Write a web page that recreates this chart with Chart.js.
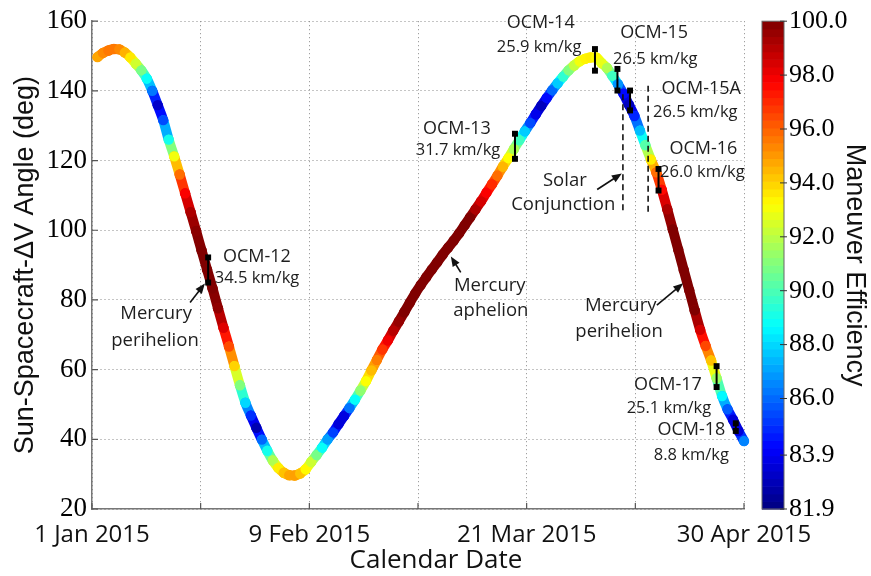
<!DOCTYPE html>
<html>
<head>
<meta charset="utf-8">
<title>Sun-Spacecraft-ΔV Angle</title>
<script src="https://cdn.jsdelivr.net/npm/chart.js@4/dist/chart.umd.min.js"></script>
<style>
  body { margin: 0; background: #fff; }
  #wrap { width: 871px; height: 576px; }
</style>
</head>
<body>
<div id="wrap"><canvas id="angle_chart" width="871" height="576"></canvas></div>
<script>
// days after 1 Jan 2015
const days = [
  1, 2, 3, 4, 5, 6, 7, 8, 9, 10, 11, 12, 13, 14, 15, 16, 17, 18, 19, 20,
  21, 22, 23, 24, 25, 26, 27, 28, 29, 30, 31, 32, 33, 34, 35, 36, 37, 38, 39, 40,
  41, 42, 43, 44, 45, 46, 47, 48, 49, 50, 51, 52, 53, 54, 55, 56, 57, 58, 59, 60,
  61, 62, 63, 64, 65, 66, 67, 68, 69, 70, 71, 72, 73, 74, 75, 76, 77, 78, 79, 80,
  81, 82, 83, 84, 85, 86, 87, 88, 89, 90, 91, 92, 93, 94, 95, 96, 97, 98, 99, 100,
  101, 102, 103, 104, 105, 106, 107, 108, 109, 110, 111, 112, 113, 114, 115, 116, 117, 118, 119
];

// Sun-Spacecraft-dV angle (deg)
const angle = [
  149.7, 150.9, 151.6, 152.0, 151.9, 151.0, 149.6, 147.8, 145.9, 143.5,
  140.0, 135.9, 131.6, 126.0, 121.2, 116.0, 110.6, 105.2, 99.8, 94.2,
  88.7, 83.3, 77.6, 72.0, 66.6, 61.0, 55.5, 50.5, 46.8, 43.3,
  39.9, 36.7, 33.9, 31.8, 30.4, 29.7, 29.6, 30.2, 31.4, 33.5,
  35.5, 37.6, 40.0, 42.0, 44.4, 46.7, 49.0, 51.4, 54.0, 56.7,
  59.8, 62.8, 65.8, 68.4, 71.2, 73.8, 76.5, 79.2, 81.9, 84.3,
  86.5, 88.7, 90.8, 93.0, 95.0, 97.0, 99.1, 101.4, 103.7, 106.0,
  108.3, 110.8, 113.2, 115.7, 118.3, 120.7, 123.3, 125.9, 128.4, 130.8,
  133.3, 135.7, 138.0, 140.2, 142.2, 144.1, 145.9, 147.3, 148.5, 149.2,
  149.6, 149.6, 148.0, 146.6, 144.3, 141.9, 139.2, 136.0, 132.8, 128.6,
  124.4, 120.3, 116.6, 111.6, 106.0, 100.2, 94.4, 88.6, 82.8, 77.0,
  71.4, 66.8, 62.6, 57.5, 52.4, 48.6, 45.6, 42.4, 39.5
];

// maneuver efficiency (%)
const efficiency = [
  94.8, 95.3, 95.6, 95.6, 95.3, 94.6, 93.6, 92.4, 90.8, 88.8,
  86.3, 83.2, 85.5, 89.0, 93.0, 95.8, 97.8, 99.2, 99.8, 100.0,
  100.0, 100.0, 99.7, 98.3, 96.4, 94.0, 91.0, 88.0, 85.0, 82.8,
  86.0, 89.0, 91.8, 93.5, 94.3, 94.8, 94.9, 94.3, 93.3, 92.3,
  90.8, 88.8, 87.0, 85.3, 83.5, 83.6, 86.2, 88.8, 91.2, 93.2,
  94.4, 95.5, 96.8, 98.0, 99.0, 99.6, 100.0, 100.0, 100.0, 100.0,
  100.0, 100.0, 100.0, 100.0, 100.0, 100.0, 100.0, 100.0, 100.0, 99.2,
  98.5, 97.8, 97.0, 95.8, 94.5, 93.2, 91.7, 89.8, 87.8, 85.5,
  83.8, 83.0, 84.3, 86.0, 87.8, 89.5, 91.0, 92.2, 93.0, 93.4,
  93.5, 93.3, 92.8, 91.8, 89.8, 86.8, 84.3, 83.0, 84.8, 87.5,
  90.2, 93.5, 95.8, 97.6, 99.2, 100.0, 100.0, 100.0, 100.0, 100.0,
  98.5, 96.5, 94.3, 91.5, 88.6, 85.8, 83.5, 83.5, 86.5
];

const tickDays = [0, 19.83, 39.67, 59.5, 79.33, 99.17, 119];
const tickLabels = ["1 Jan 2015", "", "9 Feb 2015", "", "21 Mar 2015", "", "30 Apr 2015"];
const effTicks = [81.9, 83.9, 86.0, 88.0, 90.0, 92.0, 94.0, 96.0, 98.0, 100.0];
const effMin = 81.9, effMax = 100.0;

// OCM burns: day and angle range of each bar
const ocmNames = ["OCM-12", "OCM-13", "OCM-14", "OCM-15", "OCM-15A", "OCM-16", "OCM-17", "OCM-18"];
const ocmDv = ["34.5 km/kg", "31.7 km/kg", "25.9 km/kg", "26.5 km/kg", "26.5 km/kg", "26.0 km/kg", "25.1 km/kg", "8.8 km/kg"];
const ocmDays = [21.2, 77.2, 91.8, 95.9, 98.2, 103.4, 114.0, 117.5];
const ocmTop = [92.2, 127.7, 152.0, 146.3, 140.1, 117.6, 61.0, 44.6];
const ocmBottom = [85.0, 120.5, 145.8, 140.1, 134.4, 111.4, 55.0, 42.4];

// solar conjunction window
const conjDays = [96.9, 101.5];
const conjTop = [139.0, 141.5];
const conjBottom = [104.7, 104.7];

// text labels, placed in data units
const notes = [
  { text: ocmNames[0], x: 23.9, y: 92.5, size: 18, align: "left" },
  { text: ocmDv[0], x: 22.4, y: 86.2, size: 16.5, align: "left" },
  { text: "Mercury", x: 11.7, y: 75.9, size: 18.5 },
  { text: "perihelion", x: 11.5, y: 68.4, size: 18.5 },
  { text: ocmNames[1], x: 66.6, y: 129.2, size: 18 },
  { text: ocmDv[1], x: 66.8, y: 122.9, size: 16.5 },
  { text: ocmNames[2], x: 81.9, y: 159.6, size: 18 },
  { text: ocmDv[2], x: 81.6, y: 152.5, size: 16.5 },
  { text: ocmNames[3], x: 102.6, y: 156.7, size: 18 },
  { text: ocmDv[3], x: 102.8, y: 149.1, size: 16.5 },
  { text: ocmNames[4], x: 111.2, y: 140.5, size: 18 },
  { text: ocmDv[4], x: 110.1, y: 133.9, size: 16.5 },
  { text: ocmNames[5], x: 111.6, y: 123.3, size: 18 },
  { text: ocmDv[5], x: 111.4, y: 116.7, size: 16.5 },
  { text: "Solar", x: 86.3, y: 114.3, size: 18.5 },
  { text: "Conjunction", x: 86.0, y: 107.2, size: 18.5 },
  { text: "Mercury", x: 72.6, y: 84.0, size: 18.5 },
  { text: "aphelion", x: 72.8, y: 76.8, size: 18.5 },
  { text: "Mercury", x: 96.5, y: 78.2, size: 18.5 },
  { text: "perihelion", x: 96.2, y: 70.8, size: 18.5 },
  { text: ocmNames[6], x: 105.1, y: 55.7, size: 18 },
  { text: ocmDv[6], x: 105.3, y: 48.8, size: 16.5 },
  { text: ocmNames[7], x: 109.4, y: 42.6, size: 18 },
  { text: ocmDv[7], x: 109.4, y: 35.5, size: 16.5 }
];

const arrows = [
  { from: [17.9, 79.3], to: [20.6, 84.7] },
  { from: [92.2, 111.7], to: [96.7, 116.3] },
  { from: [67.3, 87.9], to: [65.5, 92.5] },
  { from: [103.1, 78.5], to: [107.9, 84.8] }
];

// MATLAB jet colormap
function jet(v) {
  const t = Math.min(1, Math.max(0, (v - effMin) / (effMax - effMin)));
  const ch = c => Math.round(255 * Math.min(1, Math.max(0, 1.5 - Math.abs(4 * t - c))));
  return "rgb(" + ch(3) + "," + ch(2) + "," + ch(1) + ")";
}

const curvePoints = days.map((d, i) => ({ x: d, y: angle[i] }));

const ocmPoints = [];
ocmDays.forEach((d, i) => {
  ocmPoints.push({ x: d, y: ocmTop[i] }, { x: d, y: ocmBottom[i] }, { x: d, y: null });
});

const conjPoints = [];
conjDays.forEach((d, i) => {
  conjPoints.push({ x: d, y: conjTop[i] }, { x: d, y: conjBottom[i] }, { x: d, y: null });
});

const overlay = {
  id: "overlay",
  afterDraw(chart) {
    const ctx = chart.ctx;
    const { x, y, cb } = chart.scales;
    const area = chart.chartArea;
    ctx.save();

    // tick marks pointing into the axes
    ctx.strokeStyle = "#555";
    ctx.lineWidth = 1.2;
    ctx.beginPath();
    y.ticks.forEach(t => {
      const py = y.getPixelForValue(t.value);
      ctx.moveTo(area.left, py);
      ctx.lineTo(area.left + 6, py);
    });
    x.ticks.forEach(t => {
      const px = x.getPixelForValue(t.value);
      ctx.moveTo(px, area.bottom);
      ctx.lineTo(px, area.bottom - 6);
    });
    ctx.stroke();

    // colour bar, 64 bands like the matlab one
    const barLeft = cb.left + 18, barWidth = 22, steps = 64;
    for (let i = 0; i < steps; i++) {
      const v0 = effMin + (effMax - effMin) * i / steps;
      const v1 = effMin + (effMax - effMin) * (i + 1) / steps;
      const y0 = cb.getPixelForValue(v0), y1 = cb.getPixelForValue(v1);
      ctx.fillStyle = jet((v0 + v1) / 2);
      ctx.fillRect(barLeft, y1, barWidth, y0 - y1 + 0.6);
    }
    ctx.strokeStyle = "#666";
    ctx.lineWidth = 1;
    ctx.strokeRect(barLeft, cb.top, barWidth, cb.bottom - cb.top);
    ctx.strokeStyle = "#333";
    ctx.beginPath();
    cb.ticks.forEach(t => {
      const py = cb.getPixelForValue(t.value);
      ctx.moveTo(barLeft + barWidth - 4, py);
      ctx.lineTo(barLeft + barWidth + 3, py);
    });
    ctx.stroke();

    // arrows
    ctx.strokeStyle = "#111";
    ctx.fillStyle = "#111";
    ctx.lineWidth = 1.6;
    arrows.forEach(a => {
      const x1 = x.getPixelForValue(a.from[0]), y1 = y.getPixelForValue(a.from[1]);
      const x2 = x.getPixelForValue(a.to[0]), y2 = y.getPixelForValue(a.to[1]);
      const ang = Math.atan2(y2 - y1, x2 - x1);
      ctx.beginPath();
      ctx.moveTo(x1, y1);
      ctx.lineTo(x2 - 6 * Math.cos(ang), y2 - 6 * Math.sin(ang));
      ctx.stroke();
      ctx.beginPath();
      ctx.moveTo(x2, y2);
      ctx.lineTo(x2 - 10 * Math.cos(ang) + 4 * Math.sin(ang), y2 - 10 * Math.sin(ang) - 4 * Math.cos(ang));
      ctx.lineTo(x2 - 10 * Math.cos(ang) - 4 * Math.sin(ang), y2 - 10 * Math.sin(ang) + 4 * Math.cos(ang));
      ctx.closePath();
      ctx.fill();
    });

    // labels
    ctx.fillStyle = "#1e1e1e";
    ctx.textBaseline = "middle";
    notes.forEach(n => {
      ctx.font = n.size + "px 'Open Sans'";
      ctx.textAlign = n.align || "center";
      ctx.fillText(n.text, x.getPixelForValue(n.x), y.getPixelForValue(n.y));
    });

    // x axis title
    ctx.font = "26px 'Open Sans'";
    ctx.textAlign = "center";
    ctx.fillStyle = "#111";
    ctx.fillText("Calendar Date", (area.left + area.right) / 2 + 18, 561);
    ctx.restore();
  }
};

function draw() {
  const ctx = document.getElementById("angle_chart").getContext("2d");
  new Chart(ctx, {
    type: "line",
    data: {
      datasets: [
        {
          label: "OCM",
          data: ocmPoints,
          borderColor: "#000",
          backgroundColor: "#000",
          borderWidth: 2,
          pointStyle: "rect",
          pointRadius: 4.2,
          pointBorderWidth: 0,
          spanGaps: false,
          tension: 0,
          clip: false,
          order: 0
        },
        {
          label: "Solar Conjunction",
          data: conjPoints,
          borderColor: "#111",
          borderWidth: 1.6,
          borderDash: [6, 4],
          pointRadius: 0,
          spanGaps: false,
          tension: 0,
          order: 1
        },
        {
          label: "Sun-Spacecraft-ΔV Angle",
          data: curvePoints,
          borderColor: "#800000",
          borderWidth: 10,
          borderCapStyle: "round",
          borderJoinStyle: "round",
          cubicInterpolationMode: "monotone",
          segment: {
            borderColor: c => jet((efficiency[c.p0DataIndex] + efficiency[c.p1DataIndex]) / 2)
          },
          pointRadius: 5.2,
          pointBorderWidth: 0,
          pointBackgroundColor: c => jet(efficiency[c.dataIndex]),
          clip: false,
          order: 2
        }
      ]
    },
    options: {
      responsive: false,
      animation: false,
      layout: { padding: { top: 20, right: 0, bottom: 0, left: 0 } },
      plugins: { legend: { display: false }, tooltip: { enabled: false } },
      scales: {
        x: {
          type: "linear",
          min: 0,
          max: 119,
          afterBuildTicks: s => { s.ticks = tickDays.map(v => ({ value: v })); },
          afterFit: s => { s.height = 67; },
          ticks: {
            autoSkip: false,
            maxRotation: 0,
            padding: 12,
            color: "#111",
            font: { family: "'Open Sans'", size: 24 },
            callback: (v, i) => tickLabels[i]
          },
          grid: { color: "#8a8a8a", lineWidth: 1, drawTicks: false },
          border: { color: "#777", width: 1.5, dash: [1, 3] }
        },
        y: {
          min: 20,
          max: 160,
          afterFit: s => { s.width = 92; },
          ticks: {
            stepSize: 20,
            padding: 5,
            color: "#000",
            font: { family: "'Liberation Serif'", size: 27 }
          },
          grid: { color: "#8a8a8a", lineWidth: 1, drawTicks: false },
          border: { color: "#777", width: 1.5, dash: [1, 3] },
          title: {
            display: true,
            text: "Sun-Spacecraft-ΔV Angle (deg)",
            color: "#111",
            font: { family: "'Liberation Sans'", size: 27 },
            padding: { top: 9, bottom: 0 }
          }
        },
        cb: {
          type: "linear",
          position: "right",
          min: effMin,
          max: effMax,
          afterBuildTicks: s => { s.ticks = effTicks.map(v => ({ value: v })); },
          // the wide label gap must not push the plot down
          afterFit: s => { s.width = 127; s.paddingTop = 16; s.paddingBottom = 16; },
          ticks: {
            autoSkip: false,
            padding: 45,
            color: "#000",
            font: { family: "'Liberation Serif'", size: 26 },
            callback: v => v.toFixed(1)
          },
          grid: { display: false, drawTicks: false },
          border: { display: false },
          title: {
            display: true,
            text: "Maneuver Efficiency",
            color: "#111",
            font: { family: "'Liberation Sans'", size: 27 },
            padding: { top: 0, bottom: 0 }
          }
        }
      }
    },
    plugins: [overlay]
  });
}

Promise.all([
  document.fonts.load("24px 'Open Sans'"),
  document.fonts.load("27px 'Liberation Serif'"),
  document.fonts.load("27px 'Liberation Sans'")
]).then(draw, draw);
</script>
</body>
</html>
